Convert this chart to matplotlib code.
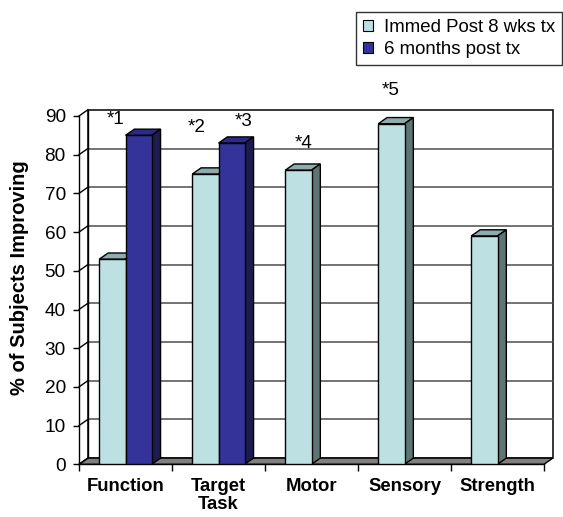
import numpy as np
import matplotlib
matplotlib.use("Agg")
import matplotlib.pyplot as plt
from matplotlib.patches import Polygon, Patch

plt.rcParams['font.family'] = ['Liberation Sans', 'DejaVu Sans']

categories = ["Function", "Target\nTask", "Motor", "Sensory", "Strength"]
immed_post = [53, 75, 76, 88, 59]
six_months = [85, 83, 0, 0, 0]
series_names = ["Immed Post 8 wks tx", "6 months post tx"]
star_labels = ["*1", "*2", "*3", "*4", "*5"]
star_pos = [(0.39, 89.2), (1.26, 86.9), (1.77, 88.7), (2.41, 83.0), (3.355, 96.5)]
y_ticks = list(range(0, 100, 10))

# face colours: front, top, side
light = ("#bde0e3", "#8eabad", "#5f7575")
dark = ("#333399", "#2b2b85", "#1c1c4e")

W, H, DPI = 563, 517, 100
fig = plt.figure(figsize=(W / DPI, H / DPI), dpi=DPI)
ax = fig.add_axes([79 / W, 52.7 / H, 465 / W, 348.3 / H])
ax.set_xlim(0, 5)
ax.set_ylim(0, 90)
ax.patch.set_visible(False)

# depth offset of the pseudo-3D box (data units)
dx, dy = 0.095, 1.6
bw = 0.282

# back wall
wall = Polygon([(dx, dy), (5 + dx, dy), (5 + dx, 90 + dy), (dx, 90 + dy)],
               closed=True, facecolor="white", edgecolor="black", lw=1.1,
               clip_on=False, zorder=0.5)
ax.add_patch(wall)
for v in y_ticks[1:]:
    if v < 90:
        ax.plot([dx, 5 + dx], [v + dy, v + dy], color="#4d4d4d", lw=1.1,
                clip_on=False, zorder=0.8)
    ax.plot([0, dx], [v, v + dy], color="black", lw=1.0, clip_on=False, zorder=0.8)
ax.plot([dx, dx], [dy, 90 + dy], color="black", lw=1.0, clip_on=False, zorder=0.8)

# floor
floor = Polygon([(0, 0), (5, 0), (5 + dx, dy), (dx, dy)], closed=True,
                facecolor="#808080", edgecolor="black", lw=1.0,
                clip_on=False, zorder=1)
ax.add_patch(floor)
ax.plot([0, dx], [0, dy], color="black", lw=1.0, clip_on=False, zorder=1.1)


def draw_series(values, offset, colors, z):
    xs = [i + 0.5 + offset for i, v in enumerate(values) if v > 0]
    hs = [v for v in values if v > 0]
    ax.bar(xs, hs, width=bw, align="edge", color=colors[0], edgecolor="black",
           linewidth=1.0, zorder=z + 0.2)
    for x0, h in zip(xs, hs):
        top = Polygon([(x0, h), (x0 + bw, h), (x0 + bw + dx, h + dy), (x0 + dx, h + dy)],
                      closed=True, facecolor=colors[1], edgecolor="black", lw=1.0,
                      clip_on=False, zorder=z)
        side = Polygon([(x0 + bw, 0), (x0 + bw + dx, dy), (x0 + bw + dx, h + dy), (x0 + bw, h)],
                       closed=True, facecolor=colors[2], edgecolor="black", lw=1.0,
                       clip_on=False, zorder=z)
        ax.add_patch(top)
        ax.add_patch(side)


draw_series(immed_post, -bw, light, 2)
draw_series(six_months, 0.0, dark, 3)

for s, (x, y) in zip(star_labels, star_pos):
    ax.text(x, y, s, ha="center", va="center", fontsize=13.5, zorder=5)

# axes decorations
for side_name in ("top", "right"):
    ax.spines[side_name].set_visible(False)
ax.spines["left"].set_linewidth(1.0)
ax.spines["bottom"].set_linewidth(1.0)
ax.spines["left"].set_zorder(1.2)
ax.spines["bottom"].set_zorder(1.2)

ax.set_yticks(y_ticks)
ax.tick_params(axis="y", direction="out", length=4.5, width=1.0, pad=5,
               labelsize=13.7)
ax.set_xticks(range(6))
ax.set_xticklabels([])
ax.set_xticks(np.arange(5) + 0.5, minor=True)
ax.set_xticklabels(categories, minor=True, fontweight="bold", fontsize=13.3,
                   linespacing=1.1)
ax.tick_params(axis="x", which="major", direction="out", length=5, width=1.0)
ax.tick_params(axis="x", which="minor", length=0, pad=10)

fig.text(20 / W, 1 - 278 / H, "% of Subjects Improving", rotation=90,
         ha="center", va="center", fontsize=14.5, fontweight="bold")

handles = [Patch(facecolor=light[0], edgecolor="black", lw=0.8),
           Patch(facecolor=dark[0], edgecolor="black", lw=0.8)]
leg = fig.legend(handles, series_names, loc="upper right",
                 bbox_to_anchor=(562 / W, 1 - 12.3 / H), fontsize=13.4,
                 frameon=True, fancybox=False, handlelength=0.55, handleheight=0.55,
                 handletextpad=0.6, labelspacing=0.3, borderpad=0.35,
                 borderaxespad=0)
leg.get_frame().set_edgecolor("black")
leg.get_frame().set_linewidth(1.0)

fig.savefig("out.png", dpi=DPI)
